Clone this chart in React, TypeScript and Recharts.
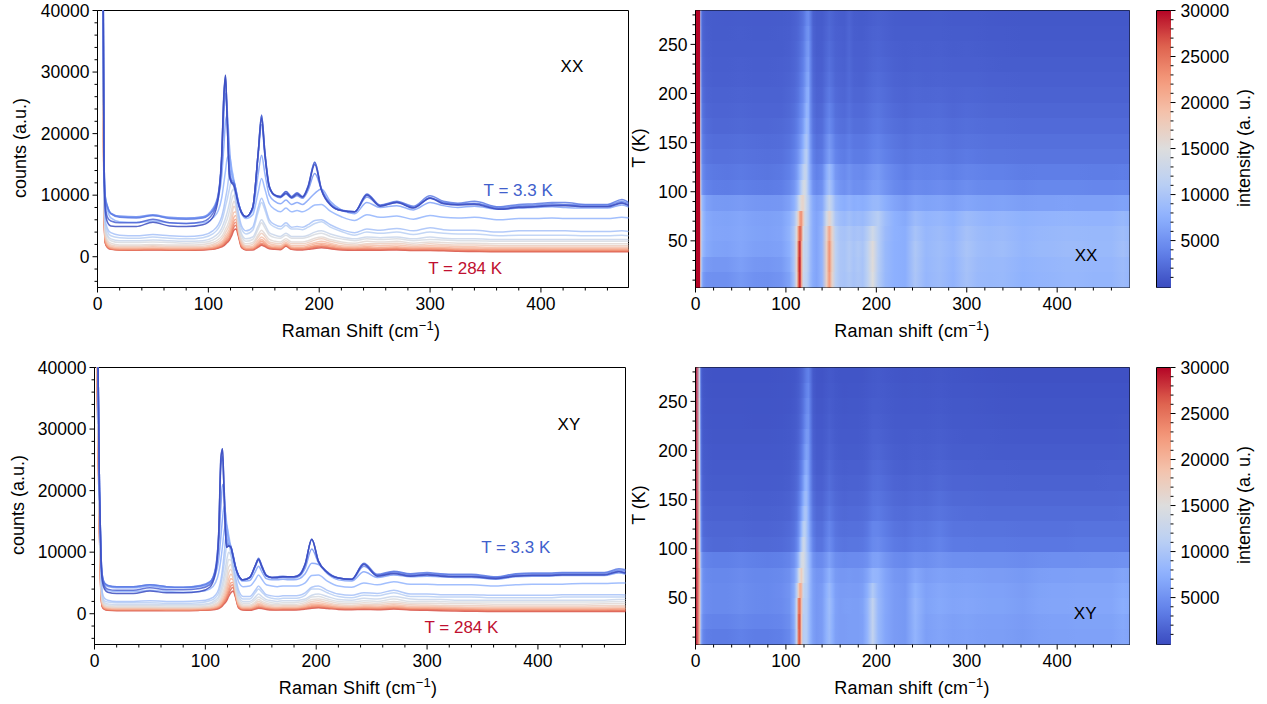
import React from "react";
import {
  LineChart, Line, ScatterChart, Scatter, XAxis, YAxis, ReferenceArea, ReferenceDot, Label,
} from "recharts";

const PAGE_W = 1267;
const PAGE_H = 704;
const FONT = "'Liberation Sans', Arial, sans-serif";
const TICK_FS = 17.5;
const NOTE_FS = 17;
const TITLE_FS = 18;
const AXIS_ROOM = 40;

// Raman shift grid (cm-1), shared by all spectra
const shift = [0,4.5,5.8,7,9,12,20,35,50,65,80,95,104,109,112,114,115.5,117,119,121,123,125,127,130,134,140,145,148,151,155,160,165,170,175,180,185,190,196,202,210,220,232,243,255,270,285,300,312,325,340,362,380,395,410,422,440,460,473,480];

// Row centres of the temperature map (K)
const tempRows = [10.3,26,41.7,57.3,73,88.7,104.3,120,135.7,151.3,167,182.7,198.3,214,229.7,245.3,261,276.7];

// XX spectra, coldest first
const xx00 = [90000,70000,15000,7500,5600,5000,4900,4900,5600,5000,4900,5200,6400,9500,16000,26000,29500,22000,13000,12000,11500,10200,8600,7100,6500,8000,17000,22500,16500,11300,10000,9700,10300,9600,10100,9700,11300,15000,10800,8400,7500,7300,10000,8200,8800,7900,9500,8600,8400,8500,7700,8000,8100,8300,8300,8100,8100,8700,8200];
const xx01 = [90000,70000,16000,8500,6400,5800,5500,5500,6100,5500,5400,5700,7000,10000,16500,26500,29500,22000,13500,12200,11800,10400,8700,7200,6500,8000,17000,23000,17000,11400,10000,9800,10600,9700,10300,9700,11400,15300,10900,8500,7500,7300,10100,8300,8900,8000,9600,8700,8500,8600,7800,8100,8200,8400,8400,8200,8200,8800,8300];
const xx02 = [90000,70000,17000,9500,8000,7000,6400,6300,6700,6200,6100,6300,7500,10000,16000,26000,29000,22000,13500,12000,12000,10500,8800,7200,6500,8000,17000,23000,17000,11500,10000,9800,10600,9800,10400,9800,11500,15400,11000,8500,7500,7300,10200,8400,9000,8200,9900,9000,8700,9000,8100,8500,8600,8800,8800,8500,8500,9300,8700];
const xx03 = [90000,70000,17000,9800,8200,7100,6600,6500,6800,6400,6300,6500,7800,10300,15500,23000,26500,24000,15000,12500,12200,10700,8900,7200,6500,7900,16500,21500,16500,11200,9900,9600,10200,9500,9900,9500,10800,13500,11000,8700,7600,7300,9700,8300,8800,8000,9500,8800,8500,8700,8000,8300,8400,8600,8500,8400,8400,9000,8500];
const xx04 = [90000,70000,17000,9800,8200,7000,6500,6400,6700,6300,6200,6400,7500,9500,13000,18000,22000,23000,18000,13500,12300,10800,9000,7200,6500,7500,13500,16500,13500,10000,9000,8600,9200,8500,8800,8500,9200,10300,11000,9000,7600,7000,8800,8000,8300,7600,8800,8300,8000,8200,7700,7900,8000,8100,8000,7900,7900,8400,8000];
const xx05 = [90000,65000,16000,9000,7500,6300,5700,5600,5800,5500,5400,5500,6300,7500,9500,12000,14000,16000,16500,14500,12500,10800,8900,7000,6200,6800,10500,12700,11000,8600,7700,7300,7900,7300,7500,7300,7700,8400,8500,7400,6500,5900,6800,6400,6600,6100,6700,6400,6300,6400,6000,6200,6200,6300,6200,6200,6200,6400,6300];
const xx06 = [85000,60000,14000,6000,4600,3900,3500,3400,3600,3400,3300,3500,4200,5200,6500,8000,9500,11000,13500,14000,12000,9500,7300,5000,4200,4800,8000,9500,8200,6000,5200,4900,5500,4800,4900,4800,5200,5900,6000,5200,4400,3900,4500,4300,4600,4200,4700,4400,4300,4300,4000,4200,4200,4200,4200,4100,4100,4200,4100];
const xx07 = [85000,60000,13500,5400,4100,3400,3100,3000,3200,3000,2900,3100,3700,4600,5700,7000,8200,9300,11000,12500,11500,9000,6700,4500,3700,4300,7300,8800,7600,5500,4800,4500,5100,4500,4500,4400,4800,5400,5700,4800,4100,3500,4000,3800,4000,3600,4000,3800,3700,3700,3400,3500,3500,3500,3500,3400,3400,3500,3400];
const xx08 = [80000,55000,13000,4700,3500,2900,2600,2600,2700,2600,2500,2600,3100,3800,4600,5500,6300,7200,8700,10500,11000,8800,6100,3700,2900,3200,5000,6000,5200,3900,3500,3300,3800,3300,3300,3300,3500,4000,4200,3700,3200,2900,3200,3100,3200,2900,3200,3000,2900,2900,2800,2800,2800,2800,2800,2800,2800,2800,2800];
const xx09 = [80000,55000,12500,4300,3200,2600,2300,2300,2400,2300,2200,2300,2700,3300,4000,4700,5400,6100,7400,9200,10000,8300,5600,3300,2500,2800,4500,5500,4700,3500,3100,3000,3500,3000,3000,3000,3200,3600,3800,3300,2900,2600,2900,2800,2900,2600,2800,2700,2600,2600,2500,2500,2500,2500,2500,2500,2500,2500,2500];
const xx10 = [75000,52000,12000,3800,2700,2200,1900,1900,2000,1900,1900,2000,2300,2800,3300,3900,4500,5000,6000,7700,9000,8000,5000,2800,2100,2300,3600,4300,3700,2800,2500,2400,2900,2400,2400,2400,2600,3000,3200,2800,2400,2200,2500,2400,2500,2200,2400,2300,2200,2200,2100,2100,2100,2100,2100,2100,2100,2100,2100];
const xx11 = [75000,52000,11500,3400,2400,1900,1700,1700,1800,1700,1700,1700,2000,2400,2900,3400,3900,4400,5200,6700,8200,7500,4700,2500,1800,2000,3200,3800,3300,2400,2200,2100,2600,2100,2100,2100,2300,2700,2900,2500,2100,1900,2100,2100,2200,1900,2100,2000,1900,1900,1800,1800,1800,1800,1800,1800,1800,1800,1800];
const xx12 = [70000,50000,11000,3100,2100,1700,1500,1500,1600,1500,1500,1500,1800,2100,2500,2900,3400,3800,4500,5800,7200,7300,4500,2200,1600,1700,2700,3200,2800,2100,1900,1800,2300,1800,1800,1800,2000,2300,2500,2200,1800,1700,1900,1800,1900,1700,1800,1750,1650,1600,1550,1550,1550,1550,1550,1550,1550,1550,1550];
const xx13 = [70000,50000,10500,2800,1900,1500,1350,1350,1400,1350,1350,1400,1600,1900,2200,2600,3000,3400,4000,5100,6400,6700,4300,2000,1400,1500,2300,2800,2400,1800,1700,1600,2100,1600,1550,1550,1750,2050,2200,1950,1600,1500,1650,1550,1600,1500,1550,1500,1400,1400,1350,1350,1350,1300,1300,1300,1300,1300,1300];
const xx14 = [68000,48000,10000,2600,1750,1400,1250,1250,1300,1250,1250,1300,1450,1750,2000,2350,2700,3050,3600,4600,5800,6100,4100,1850,1300,1350,2050,2500,2150,1650,1500,1450,2000,1450,1400,1400,1550,1800,1950,1750,1450,1350,1450,1400,1450,1300,1350,1300,1250,1200,1150,1150,1150,1150,1150,1150,1150,1150,1150];
const xx15 = [68000,48000,9500,2400,1650,1300,1150,1150,1200,1150,1150,1200,1350,1600,1850,2150,2450,2750,3250,4200,5300,5600,3900,1700,1200,1250,1850,2200,1950,1500,1400,1350,1900,1350,1300,1300,1400,1650,1750,1550,1300,1250,1300,1250,1300,1200,1250,1200,1100,1050,1000,1000,1000,1000,1000,1000,1000,1000,1000];
const xx16 = [65000,46000,9000,2300,1550,1250,1100,1100,1150,1100,1100,1150,1250,1500,1700,1950,2250,2500,2950,3800,4800,5100,3700,1600,1150,1200,1700,2000,1750,1400,1300,1250,1800,1250,1200,1200,1300,1500,1600,1400,1200,1150,1150,1150,1200,1100,1100,1050,1000,950,900,900,900,900,900,900,900,900,900];
const xx17 = [65000,46000,8500,2200,1500,1200,1100,1050,1100,1050,1050,1100,1200,1400,1600,1800,2050,2300,2700,3400,4300,4500,3400,1450,1100,1100,1550,1850,1650,1300,1200,1150,1700,1200,1100,1100,1200,1350,1450,1300,1100,1050,1050,1050,1100,1000,1000,950,900,850,800,800,800,800,800,800,800,800,800];
const xxSpectra = [xx00,xx01,xx02,xx03,xx04,xx05,xx06,xx07,xx08,xx09,xx10,xx11,xx12,xx13,xx14,xx15,xx16,xx17];

// XY spectra, coldest first
const xy00 = [90000,20000,9000,5400,4000,3500,3300,3300,3700,3400,3400,3600,4300,6500,12500,25000,26800,19000,10800,11000,10800,9300,7700,6200,5500,5900,7800,8800,7600,6200,5900,5900,6000,6000,6000,6300,8000,12100,8500,6700,5800,5600,8000,6100,6500,6100,6300,6100,6000,6000,5700,6100,6200,6200,6300,6300,6300,6800,6500];
const xy01 = [90000,20000,9500,5800,4500,4000,3800,3800,4200,3900,3900,4100,4700,7000,13000,25500,26800,19000,10800,11000,10800,9300,7700,6200,5500,5900,7800,8900,7700,6200,5900,5900,6000,6000,6000,6300,8000,12100,8500,6700,5800,5600,8100,6200,6600,6200,6400,6200,6100,6100,5800,6200,6300,6300,6400,6400,6400,6900,6600];
const xy02 = [90000,20000,10000,6300,5000,4600,4400,4400,4700,4400,4300,4500,5100,7300,13000,24000,25500,19500,11500,11000,10800,9400,7700,6200,5500,5900,7800,9000,7800,6300,5900,6000,6100,6000,6000,6400,8100,12100,8600,6800,5800,5600,8200,6400,6900,6500,6700,6500,6400,6400,6000,6500,6600,6600,6700,6700,6700,7300,7100];
const xy03 = [90000,20000,10000,6300,5000,4600,4400,4400,4700,4400,4300,4600,5200,7000,11000,17500,21000,20000,13000,11200,10900,9500,7800,6200,5500,5800,7600,8700,7500,6100,5800,5800,5900,5800,5800,6100,7400,10500,8300,6700,5800,5500,7700,6300,6800,6400,6500,6400,6300,6300,5900,6400,6500,6500,6600,6600,6600,7100,6900];
const xy04 = [90000,20000,10000,6100,4800,4400,4200,4200,4500,4200,4200,4400,4900,6300,8800,12500,15500,17500,15000,12000,11000,9600,7900,6000,5300,5400,6800,7700,6800,5700,5500,5500,5600,5500,5500,5700,6500,8200,8000,6500,5500,5300,6800,5900,6300,6000,6100,6000,5900,5900,5600,6000,6100,6100,6200,6200,6200,6600,6400];
const xy05 = [88000,19000,9000,5300,4200,3800,3600,3600,3800,3600,3500,3600,4000,5000,6600,8800,11000,13500,14500,12800,10800,9200,7500,5200,4400,4500,5500,6300,5600,4700,4500,4400,4500,4500,4500,4600,5000,6200,6300,5300,4500,4300,5000,4700,5200,4800,4800,4700,4700,4700,4500,4700,4800,4800,4800,4900,4900,5000,5000];
const xy06 = [85000,18000,7500,3500,2500,2200,2000,2000,2100,2000,2000,2100,2400,3000,4000,5500,7300,9800,13000,12300,10000,8200,6200,3800,2800,2800,3800,4500,3900,3100,2900,2800,2900,2900,2900,3000,3400,4300,4500,3800,3200,3000,3400,3300,3800,3200,3200,3100,3100,3100,3000,3000,3000,3000,3100,3100,3100,3100,3050];
const xy07 = [85000,18000,7000,3100,2100,1900,1800,1800,1800,1700,1700,1800,2100,2600,3400,4700,6100,8000,10800,11500,9800,7800,5700,3300,2400,2400,3400,4000,3500,2800,2500,2400,2500,2500,2500,2600,3000,4000,4000,3400,2800,2600,3000,2900,3400,2800,2800,2700,2700,2700,2600,2600,2600,2600,2700,2700,2700,2700,2700];
const xy08 = [80000,17000,6500,2700,1800,1600,1500,1500,1500,1450,1450,1500,1700,2200,2800,3800,4800,6200,8400,10000,9500,7300,5100,2800,2000,2000,2700,3200,2800,2300,2100,2000,2100,2100,2100,2200,2400,3000,3200,2800,2300,2200,2500,2400,2800,2400,2300,2300,2200,2200,2200,2200,2200,2200,2200,2200,2200,2300,2300];
const xy09 = [80000,17000,6000,2400,1600,1400,1300,1300,1300,1250,1250,1300,1500,1900,2400,3200,4000,5100,7000,8800,8700,6900,4700,2400,1700,1700,2300,2700,2400,2000,1800,1700,1800,1800,1800,1900,2100,2700,2800,2400,2000,1900,2100,2000,2400,2000,2000,1950,1900,1900,1900,1900,1900,1900,1900,1900,1900,1950,1950];
const xy10 = [75000,16000,5500,2100,1400,1200,1100,1100,1100,1050,1050,1100,1250,1600,2000,2600,3300,4100,5700,7600,8000,6500,4300,2000,1400,1400,1900,2300,2000,1700,1500,1450,1500,1500,1500,1600,1800,2300,2400,2100,1700,1600,1800,1700,2000,1700,1700,1650,1600,1600,1550,1550,1550,1550,1550,1550,1600,1600,1600];
const xy11 = [75000,16000,5000,1900,1250,1100,1000,1000,1000,950,950,1000,1100,1400,1750,2250,2850,3500,4800,6600,7200,6100,4000,1750,1200,1200,1650,2000,1750,1450,1300,1250,1300,1300,1300,1350,1550,2000,2100,1800,1450,1350,1500,1450,1700,1450,1400,1350,1300,1300,1250,1250,1250,1250,1250,1250,1300,1300,1300];
const xy12 = [70000,15000,4600,1700,1100,950,850,850,850,850,850,900,1000,1200,1500,1950,2450,3000,4100,5600,6400,5800,3800,1550,1050,1050,1400,1700,1500,1250,1100,1050,1100,1100,1100,1150,1350,1700,1800,1550,1250,1150,1300,1250,1450,1200,1200,1150,1100,1050,1050,1050,1050,1050,1050,1050,1050,1100,1100];
const xy13 = [70000,15000,4300,1500,1000,850,750,750,750,750,750,800,900,1050,1300,1700,2100,2600,3500,4800,5700,5500,3600,1400,950,950,1250,1500,1350,1100,1000,950,1000,1000,1000,1050,1200,1500,1550,1350,1100,1050,1150,1100,1250,1050,1000,950,950,900,850,850,850,850,850,850,850,900,900];
const xy14 = [68000,14000,4000,1400,900,750,700,700,700,650,650,700,800,950,1150,1450,1800,2250,3000,4100,5000,5100,3400,1250,850,850,1100,1300,1200,1000,900,850,900,900,900,950,1050,1300,1350,1200,1000,950,1000,950,1100,900,900,850,800,750,700,700,700,700,700,700,700,750,750];
const xy15 = [68000,14000,3700,1300,850,700,650,650,650,600,600,650,700,850,1050,1300,1600,2000,2650,3600,4500,4700,3200,1150,750,750,1000,1150,1050,900,800,750,800,800,800,850,950,1150,1200,1050,900,850,900,850,950,800,800,750,700,650,600,600,600,600,600,600,600,600,600];
const xy16 = [65000,13000,3400,1200,750,600,550,550,550,550,550,600,650,750,950,1150,1450,1800,2350,3200,3950,4300,3000,1050,650,650,850,1000,950,800,700,650,700,700,700,750,850,1000,1050,950,800,750,800,750,850,700,700,650,600,550,500,500,500,500,500,500,500,500,500];
const xy17 = [65000,13000,3200,1100,700,550,500,500,500,500,500,550,600,700,850,1050,1300,1600,2050,2800,3400,3700,2800,950,600,550,750,900,850,700,600,600,600,600,600,650,750,900,950,850,700,650,700,650,750,600,550,500,450,400,350,350,350,350,350,350,350,350,350];
const xySpectra = [xy00,xy01,xy02,xy03,xy04,xy05,xy06,xy07,xy08,xy09,xy10,xy11,xy12,xy13,xy14,xy15,xy16,xy17];

// Tick lists
const shiftTicks = [0,20,40,60,80,100,120,140,160,180,200,220,240,260,280,300,320,340,360,380,400,420,440,460];
const countTicks = [-4000,-2000,0,2000,4000,6000,8000,10000,12000,14000,16000,18000,20000,22000,24000,26000,28000,30000,32000,34000,36000,38000,40000];
const tempTicks = [10,20,30,40,50,60,70,80,90,100,110,120,130,140,150,160,170,180,190,200,210,220,230,240,250,260,270,280];
const barTicks = [1000,2000,3000,4000,5000,6000,7000,8000,9000,10000,11000,12000,13000,14000,15000,16000,17000,18000,19000,20000,21000,22000,23000,24000,25000,26000,27000,28000,29000,30000];
const barLevels = [-100,1000,2000,3000,4000,5000,6000,7000,8000,9000,10000,11000,12000,13000,14000,15000,16000,17000,18000,19000,20000,21000,22000,23000,24000,25000,26000,27000,28000,29000,30000];

// coolwarm colour stops
const coolwarmStops: [number, number, number][] = [
  [59,76,192],[98,130,234],[141,176,254],[187,208,243],[221,221,221],[244,196,173],[244,152,122],[222,96,77],[180,4,38],
];
function coolwarm(t: number) {
  const c = Math.max(0, Math.min(1, t)) * (coolwarmStops.length - 1);
  const i = Math.min(Math.floor(c), coolwarmStops.length - 2);
  const f = c - i;
  const a = coolwarmStops[i], b = coolwarmStops[i + 1];
  return `rgb(${Math.round(a[0] + (b[0] - a[0]) * f)},${Math.round(a[1] + (b[1] - a[1]) * f)},${Math.round(a[2] + (b[2] - a[2]) * f)})`;
}
const heatColor = (v: number) => coolwarm(v / 30000);

type Box = { l: number; r: number; t: number; b: number };
const marginOf = (p: Box) => ({ left: p.l - AXIS_ROOM, right: PAGE_W - p.r, top: p.t, bottom: PAGE_H - p.b - AXIS_ROOM });

const Layer = ({ children }: { children: React.ReactNode }) => (
  <div style={{ position: "absolute", left: 0, top: 0, width: PAGE_W, height: PAGE_H }}>{children}</div>
);

const XTick = (props: any) => {
  const { x, y, payload } = props;
  const major = payload.value % 100 === 0;
  return (
    <g>
      <line x1={x} x2={x} y1={y} y2={y + (major ? 5 : 3)} stroke="#000" strokeWidth={1} />
      {major && <text x={x} y={y + 22.5} textAnchor="middle" fontFamily={FONT} fontSize={TICK_FS} fill="#000">{payload.value}</text>}
    </g>
  );
};
const makeYTick = (majorStep: number) => (props: any) => {
  const { x, y, payload } = props;
  const major = payload.value % majorStep === 0;
  return (
    <g>
      <line x1={x} x2={x - (major ? 5 : 3)} y1={y} y2={y} stroke="#000" strokeWidth={1} />
      {major && <text x={x - 8} y={y + 6.2} textAnchor="end" fontFamily={FONT} fontSize={TICK_FS} fill="#000">{payload.value}</text>}
    </g>
  );
};
const RightTick = (props: any) => {
  const { x, y, payload } = props;
  const major = payload.value % 5000 === 0;
  return (
    <g>
      <line x1={x} x2={x + (major ? 5 : 3)} y1={y} y2={y} stroke="#000" strokeWidth={1} />
      {major && <text x={x + 10} y={y + 6.2} textAnchor="start" fontFamily={FONT} fontSize={TICK_FS} fill="#000">{payload.value}</text>}
    </g>
  );
};

const shiftTitle = (word: string, cx: number, y: number) => () => (
  <text x={cx} y={y} textAnchor="middle" fontFamily={FONT} fontSize={TITLE_FS} letterSpacing={0.2} fill="#000">
    {word} (cm<tspan dy={-7} fontSize={13}>−1</tspan><tspan dy={7}>)</tspan>
  </text>
);
const sideTitle = (txt: string, x: number, cy: number) => () => (
  <text x={x} y={cy} textAnchor="middle" transform={`rotate(-90 ${x} ${cy})`} fontFamily={FONT} fontSize={TITLE_FS} fill="#000">{txt}</text>
);

const note = (value: string, fill: string) => ({ value, position: "center" as const, fill, fontSize: NOTE_FS, fontFamily: FONT });

type SpectraProps = {
  box: Box; spectra: number[][]; tag: string; tagX: number; tagY: number; coldX: number; coldY: number; hotX: number; hotY: number;
  titleX: number; titleY: number; sideX: number; sideY: number;
};
function SpectraPanel(p: SpectraProps) {
  const rows = shift.map((x, c) => {
    const row: Record<string, number> = { x };
    p.spectra.forEach((s, i) => { row[`s${i}`] = s[c]; });
    return row;
  });
  const order = p.spectra.map((_, i) => p.spectra.length - 1 - i);
  return (
    <Layer>
      <LineChart width={PAGE_W} height={PAGE_H} data={rows} margin={marginOf(p.box)}>
        <XAxis type="number" dataKey="x" domain={[0, 479]} allowDataOverflow ticks={shiftTicks} interval={0} height={AXIS_ROOM} tickSize={0} tickMargin={0} tickLine={false} stroke="#000" tick={XTick}>
          <Label content={shiftTitle("Raman Shift", p.titleX, p.titleY)} />
        </XAxis>
        <YAxis type="number" domain={[-5000, 40000]} allowDataOverflow ticks={countTicks} interval={0} width={AXIS_ROOM} tickSize={0} tickMargin={0} tickLine={false} stroke="#000" tick={makeYTick(10000)}>
          <Label content={sideTitle("counts (a.u.)", p.sideX, p.sideY)} />
        </YAxis>
        {order.map((i) => (
          <Line key={i} dataKey={`s${i}`} type="monotone" stroke={coolwarm((i / 17) * 0.9)} strokeWidth={1.5} strokeOpacity={0.85} dot={false} activeDot={false} isAnimationActive={false} legendType="none" />
        ))}
        <ReferenceArea x1={0} x2={479} y1={-5000} y2={40000} fill="none" stroke="#000" strokeWidth={1} ifOverflow="visible" />
        <ReferenceDot x={p.tagX} y={p.tagY} r={0} stroke="none" label={note(p.tag, "#000")} />
        <ReferenceDot x={p.coldX} y={p.coldY} r={0} stroke="none" label={note("T = 3.3 K", "#4060cc")} />
        <ReferenceDot x={p.hotX} y={p.hotY} r={0} stroke="none" label={note("T = 284 K", "#c01030")} />
      </LineChart>
    </Layer>
  );
}

type HeatProps = { box: Box; spectra: number[][]; tag: string; tagX: number; tagY: number; titleY: number; sideY: number; id: string };
function HeatPanel(p: HeatProps) {
  const cells: any[] = [];
  p.spectra.forEach((s, r) => {
    for (let c = 0; c < shift.length - 1; c++) {
      cells.push({ x: shift[c], T: tempRows[r], x2: shift[c + 1], v: s[c], v2: s[c + 1], id: `${p.id}-${r}-${c}` });
    }
  });
  const pxX = (p.box.r - p.box.l) / 480;
  const rowH = ((p.box.b - p.box.t) / 282) * 15.667;
  const Cell = (props: any) => {
    const { cx, cy, payload: d } = props;
    if (cx == null || cy == null) return null;
    return (
      <g>
        <defs>
          <linearGradient id={d.id} x1="0" y1="0" x2="1" y2="0">
            <stop offset="0" stopColor={heatColor(d.v)} />
            <stop offset="1" stopColor={heatColor(d.v2)} />
          </linearGradient>
        </defs>
        <rect x={cx} y={cy - rowH / 2} width={(d.x2 - d.x) * pxX} height={rowH} fill={`url(#${d.id})`} shapeRendering="crispEdges" />
      </g>
    );
  };
  return (
    <Layer>
      <ScatterChart width={PAGE_W} height={PAGE_H} margin={marginOf(p.box)}>
        <XAxis type="number" dataKey="x" domain={[0, 480]} allowDataOverflow ticks={shiftTicks} interval={0} height={AXIS_ROOM} tickSize={0} tickMargin={0} tickLine={false} stroke="#000" tick={XTick}>
          <Label content={shiftTitle("Raman shift", 912, p.titleY)} />
        </XAxis>
        <YAxis type="number" dataKey="T" domain={[2.5, 284.5]} allowDataOverflow ticks={tempTicks} interval={0} width={AXIS_ROOM} tickSize={0} tickMargin={0} tickLine={false} stroke="#000" tick={makeYTick(50)}>
          <Label content={sideTitle("T (K)", 645, p.sideY)} />
        </YAxis>
        <Scatter data={cells} shape={Cell} isAnimationActive={false} legendType="none" />
        <ReferenceArea x1={0} x2={480} y1={2.5} y2={284.5} fill="none" stroke="#000" strokeWidth={1} ifOverflow="visible" />
        <ReferenceDot x={p.tagX} y={p.tagY} r={0} stroke="none" label={note(p.tag, "#000")} />
      </ScatterChart>
    </Layer>
  );
}

type BarProps = { box: Box; sideY: number; id: string };
function ColorBar(p: BarProps) {
  const cells = barLevels.slice(0, -1).map((v, i) => ({ x: 0, y: v, v, v2: barLevels[i + 1], id: `${p.id}-${i}` }));
  const pxV = (p.box.b - p.box.t) / 30100;
  const w = p.box.r - p.box.l;
  const Cell = (props: any) => {
    const { cx, cy, payload: d } = props;
    if (cx == null || cy == null) return null;
    const h = (d.v2 - d.v) * pxV;
    return (
      <g>
        <defs>
          <linearGradient id={d.id} x1="0" y1="1" x2="0" y2="0">
            <stop offset="0" stopColor={heatColor(d.v)} />
            <stop offset="1" stopColor={heatColor(d.v2)} />
          </linearGradient>
        </defs>
        <rect x={cx} y={cy - h} width={w} height={h} fill={`url(#${d.id})`} shapeRendering="crispEdges" />
      </g>
    );
  };
  const m = { left: p.box.l, right: PAGE_W - p.box.r - AXIS_ROOM, top: p.box.t, bottom: PAGE_H - p.box.b };
  return (
    <Layer>
      <ScatterChart width={PAGE_W} height={PAGE_H} margin={m}>
        <XAxis type="number" dataKey="x" domain={[0, 1]} hide />
        <YAxis type="number" dataKey="y" orientation="right" domain={[-100, 30000]} allowDataOverflow ticks={barTicks} interval={0} width={AXIS_ROOM} tickSize={0} tickMargin={0} tickLine={false} axisLine={false} tick={RightTick}>
          <Label content={sideTitle("intensity (a. u.)", 1250, p.sideY)} />
        </YAxis>
        <Scatter data={cells} shape={Cell} isAnimationActive={false} legendType="none" />
        <ReferenceArea x1={0} x2={1} y1={-100} y2={30000} fill="none" stroke="#000" strokeWidth={1} ifOverflow="visible" />
      </ScatterChart>
    </Layer>
  );
}

export default function App() {
  return (
    <div style={{ position: "absolute", left: 0, top: 0, width: PAGE_W, height: PAGE_H, overflow: "hidden", background: "#fff" }}>
      <SpectraPanel box={{ l: 97.5, r: 628.5, t: 10.5, b: 287.5 }} spectra={xxSpectra} tag="XX" tagX={428} tagY={31050} coldX={379.5} coldY={10900} hotX={331.7} hotY={-1790} titleX={361} titleY={337} sideX={26} sideY={148} />
      <SpectraPanel box={{ l: 94.5, r: 625.5, t: 367.5, b: 644.5 }} spectra={xySpectra} tag="XY" tagX={428} tagY={30900} coldX={380} coldY={10900} hotX={331} hotY={-2100} titleX={358} titleY={694} sideX={24} sideY={505} />
      <HeatPanel id="hxx" box={{ l: 695.5, r: 1129.5, t: 10.5, b: 287.5 }} spectra={xxSpectra} tag="XX" tagX={432} tagY={35.5} titleY={337} sideY={148} />
      <HeatPanel id="hxy" box={{ l: 695.5, r: 1129.5, t: 367.5, b: 644.5 }} spectra={xySpectra} tag="XY" tagX={431} tagY={35} titleY={694} sideY={505} />
      <ColorBar id="cxx" box={{ l: 1156.5, r: 1170.5, t: 10.5, b: 287.5 }} sideY={148} />
      <ColorBar id="cxy" box={{ l: 1156.5, r: 1170.5, t: 367.5, b: 644.5 }} sideY={505} />
    </div>
  );
}
